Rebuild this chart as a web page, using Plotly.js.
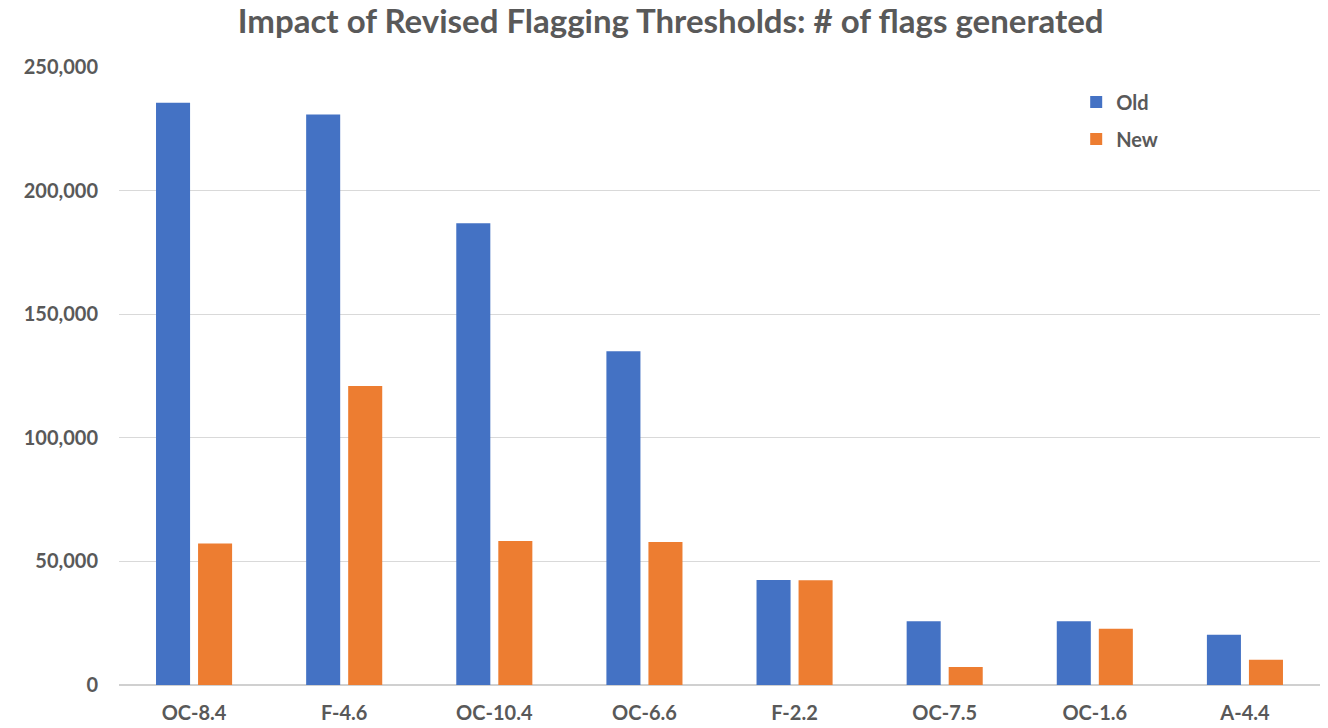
<!DOCTYPE html>
<html>
<head>
<meta charset="utf-8">
<script src="https://cdn.plot.ly/plotly-3.0.1.min.js"></script>
<style>html,body{margin:0;padding:0;background:#fff;}#chart{width:1328px;height:728px;}</style>
</head>
<body>
<div id="chart"></div>
<script>
const categories = ["OC-8.4","F-4.6","OC-10.4","OC-6.6","F-2.2","OC-7.5","OC-1.6","A-4.4"];
const oldValues = [235500, 230800, 186800, 135000, 42500, 25800, 25800, 20300];
const newValues = [57200, 121000, 58300, 57800, 42400, 7300, 22800, 10200];
const tickVals = [0, 50000, 100000, 150000, 200000, 250000];
const tickText = ["0", "50,000", "100,000", "150,000", "200,000", "250,000"];

const fontFam = 'Lato, "Open Sans", sans-serif';
const traces = [
  {type:'bar', name:'Old', legendgroup:'a', x:categories, y:oldValues, marker:{color:'#4472C4'}},
  {type:'bar', name:'New', legendgroup:'b', x:categories, y:newValues, marker:{color:'#ED7D31'}}
];
const layout = {
  width:1328, height:728,
  margin:{l:119, r:8, t:67, b:43},
  paper_bgcolor:'#fff', plot_bgcolor:'#fff',
  barmode:'group', bargap:0.44, bargroupgap:0.19,
  title:{text:'Impact of Revised Flagging Thresholds: # of flags generated', x:0.505, xanchor:'center', y:0.97, yanchor:'middle',
    font:{family:fontFam, size:33, color:'#595959', weight:'bold'}},
  xaxis:{tickfont:{family:fontFam, size:20, color:'#595959', weight:'bold'}, showline:false, ticks:'', showgrid:false, ticklabelstandoff:14},
  yaxis:{range:[0,250000], tickvals:tickVals, ticktext:tickText, showgrid:true, gridcolor:'#d9d9d9', gridwidth:1,
    zeroline:true, zerolinecolor:'#d0d0d0', zerolinewidth:1.5,
    tickfont:{family:fontFam, size:20, color:'#595959', weight:'bold'}, ticks:'', ticklen:0, ticklabelstandoff:20},
  legend:{x:0.797, y:0.975, xanchor:'left', yanchor:'top', font:{family:fontFam, size:20, color:'#595959', weight:'bold'},
    bgcolor:'rgba(0,0,0,0)', tracegroupgap:8, itemwidth:30},
  showlegend:true
};
Plotly.newPlot('chart', traces, layout, {displayModeBar:false, staticPlot:true});
</script>
</body>
</html>
